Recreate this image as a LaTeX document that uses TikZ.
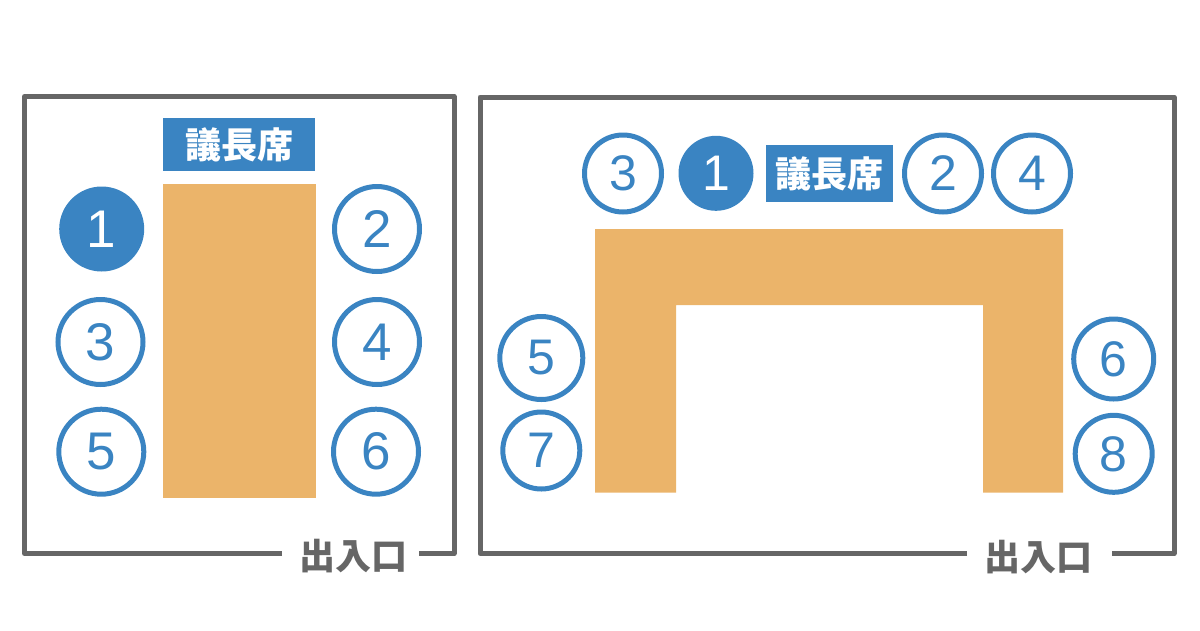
\documentclass[tikz,border=0pt]{standalone}
\usepackage{fontspec}
\setmainfont{Liberation Sans}
\newfontfamily\cjk{Noto Sans CJK JP}
\definecolor{seatblue}{RGB}{58,132,194}
\definecolor{tableorange}{RGB}{235,180,106}
\definecolor{wallgrey}{RGB}{102,102,102}
\begin{document}
\begin{tikzpicture}[x=1pt,y=-1pt,
  seatL/.style={circle, draw=seatblue, line width=5pt, minimum size=85pt, inner sep=0pt, text=seatblue, font=\fontsize{53}{53}\selectfont},
  seatLf/.style={circle, fill=seatblue, minimum size=85pt, inner sep=0pt, text=white, font=\fontsize{53}{53}\selectfont},
  seatR/.style={circle, draw=seatblue, line width=5pt, minimum size=77pt, inner sep=0pt, text=seatblue, font=\fontsize{50}{50}\selectfont},
  seatRf/.style={circle, fill=seatblue, minimum size=75pt, inner sep=0pt, text=white, font=\fontsize{50}{50}\selectfont},
  chair/.style={rectangle, fill=seatblue, inner sep=0pt, text=white, font=\cjk\bfseries\fontsize{36}{36}\selectfont},
  exitlabel/.style={inner sep=0pt, text=wallgrey, font=\cjk\bfseries\fontsize{36}{36}\selectfont},
  wall/.style={draw=wallgrey, line width=5pt, line join=round},
  tablefill/.style={fill=tableorange}]
\useasboundingbox (0,0) rectangle (1200,630);
% ---------- left room ----------
\draw[wall] (282,553.5) -- (24.5,553.5) -- (24.5,96.5) -- (454,96.5) -- (454,553.5) -- (419,553.5);
\node[exitlabel] (exitL) at (353,556) {出入口};
\node[chair, minimum width=152pt, minimum height=53pt] (chairL) at (239,144.5) {議長席};
\fill[tablefill] (163,184) rectangle (316,498);
\node[seatLf] (L1) at (101.7,229) {1};
\node[seatL] (L2) at (377,229) {2};
\node[seatL] (L3) at (100.5,342) {3};
\node[seatL] (L4) at (377,342) {4};
\node[seatL] (L5) at (101.3,451.7) {5};
\node[seatL] (L6) at (376,451.7) {6};
% ---------- right room ----------
\draw[wall] (967,553.5) -- (480,553.5) -- (480,97) -- (1174,97) -- (1174,553.5) -- (1112,553.5);
\node[exitlabel] (exitR) at (1038,557) {出入口};
\fill[tablefill] (595,229) -- (1063,229) -- (1063,492.7) -- (983,492.7) -- (983,305) -- (676,305) -- (676,492.7) -- (595,492.7) -- cycle;
\node[chair, minimum width=127pt, minimum height=57pt] (chairR) at (829.5,173.5) {議長席};
\node[seatR] (R3) at (623,173.5) {3};
\node[seatRf] (R1) at (716,173.3) {1};
\node[seatR] (R2) at (943,173.5) {2};
\node[seatR] (R4) at (1032,173.5) {4};
\node[seatR, minimum size=83pt] (R5) at (541.3,358) {5};
\node[seatR] (R7) at (541.3,450.5) {7};
\node[seatR, minimum size=80pt] (R6) at (1113.7,359) {6};
\node[seatR] (R8) at (1113.7,453.8) {8};
\end{tikzpicture}
\end{document}
